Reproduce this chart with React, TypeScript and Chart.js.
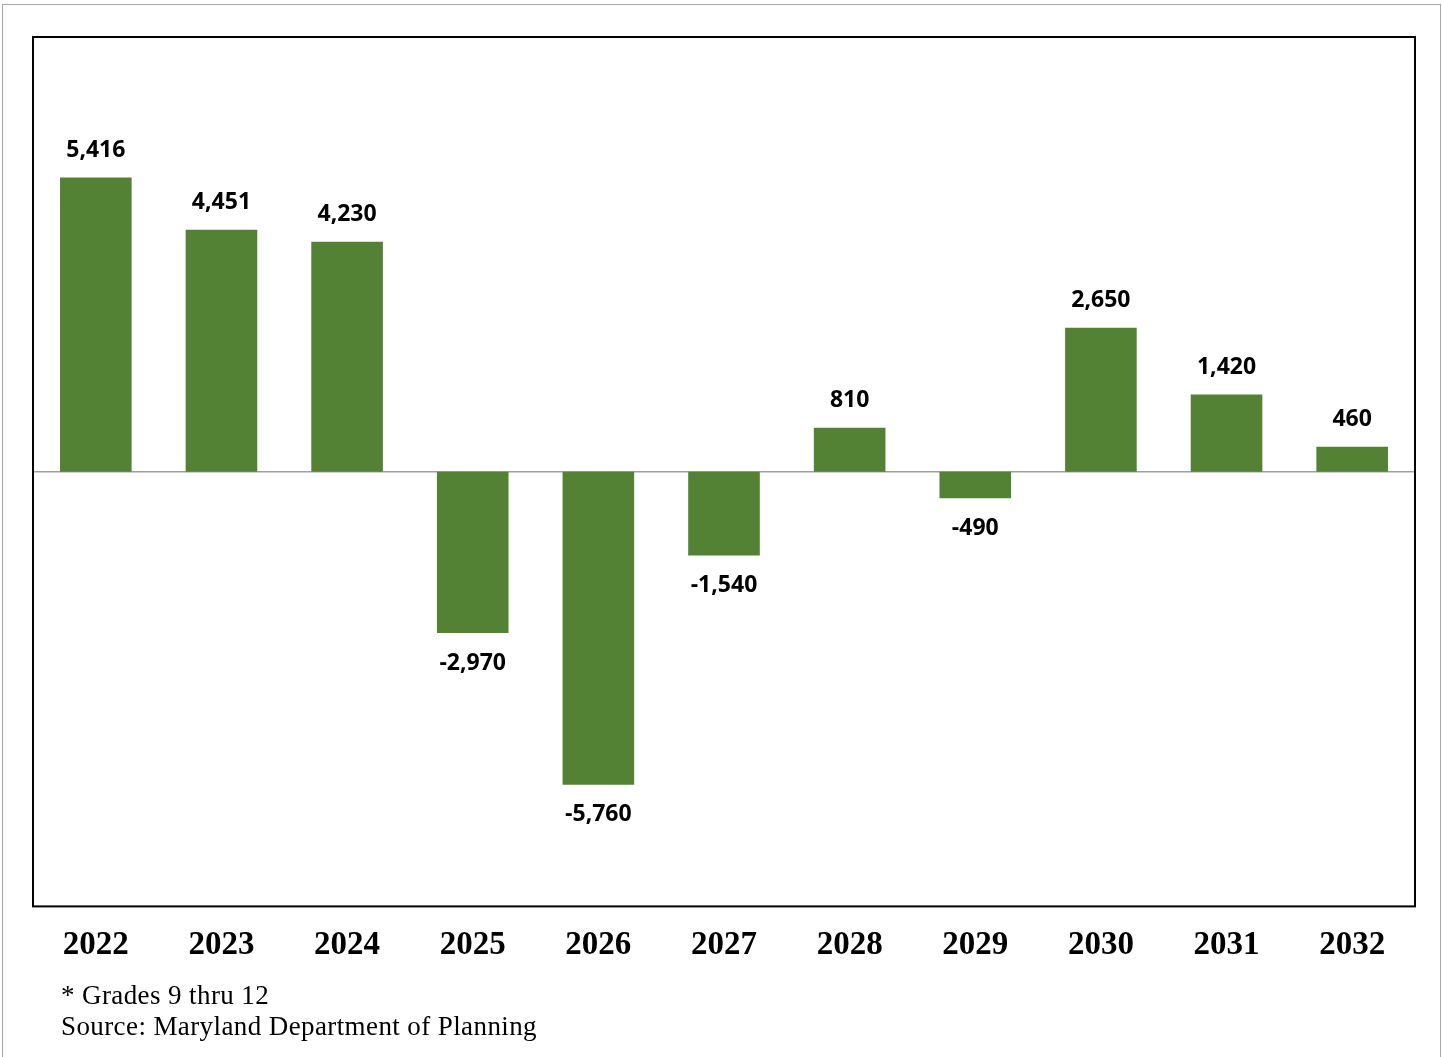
import React, { useEffect, useRef } from "react";
import { Chart, registerables } from "chart.js";

Chart.register(...registerables);

const years = ["2022", "2023", "2024", "2025", "2026", "2027", "2028", "2029", "2030", "2031", "2032"];
const changes = [5416, 4451, 4230, -2970, -5760, -1540, 810, -490, 2650, 1420, 460];
const footnotes = ["* Grades 9 thru 12", "Source: Maryland Department of Planning"];

const fmt = (v: number) => (v < 0 ? "-" : "") + Math.abs(v).toLocaleString("en-US");

const framePlugin = {
  id: "frame",
  beforeDatasetsDraw(chart: any) {
    const { ctx, chartArea, scales } = chart;
    const y0 = scales.y.getPixelForValue(0);
    ctx.save();
    ctx.strokeStyle = "#a0a0a0";
    ctx.lineWidth = 1.5;
    ctx.beginPath();
    ctx.moveTo(chartArea.left, y0);
    ctx.lineTo(chartArea.right, y0);
    ctx.stroke();
    ctx.restore();
  },
  afterDatasetsDraw(chart: any) {
    const { ctx, chartArea } = chart;
    ctx.save();
    const meta = chart.getDatasetMeta(0);
    ctx.font = "bold 23px 'Open Sans'";
    ctx.fillStyle = "#000000";
    ctx.textAlign = "center";
    ctx.textBaseline = "middle";
    meta.data.forEach((el: any, i: number) => {
      const v = changes[i];
      const y = v >= 0 ? el.y - 27 : el.y + 30;
      ctx.fillText(fmt(v), el.x, y);
    });
    ctx.strokeStyle = "#000000";
    ctx.lineWidth = 2;
    ctx.strokeRect(chartArea.left, chartArea.top, chartArea.right - chartArea.left, chartArea.bottom - chartArea.top);
    ctx.restore();
  },
};

export default function App() {
  const ref = useRef<HTMLCanvasElement>(null);
  useEffect(() => {
    if (!ref.current) return;
    const chart = new Chart(ref.current, {
      type: "bar",
      data: {
        labels: years,
        datasets: [
          {
            data: changes,
            backgroundColor: "#548235",
            borderWidth: 0,
            barPercentage: 0.57,
            categoryPercentage: 1,
          },
        ],
      },
      options: {
        responsive: false,
        animation: false,
        layout: { padding: { left: 33, right: 27, top: 37, bottom: 0 } },
        plugins: { legend: { display: false }, tooltip: { enabled: false } },
        scales: {
          x: {
            grid: { display: false, drawTicks: false },
            border: { display: false },
            ticks: {
              color: "#000000",
              font: { family: "'Liberation Serif'", weight: "bold", size: 33 },
              padding: 19,
              maxRotation: 0,
            },
          },
          y: {
            display: false,
            min: -8000,
            max: 8000,
          },
        },
      },
      plugins: [framePlugin],
    });
    return () => chart.destroy();
  }, []);

  return (
    <div style={{ position: "absolute", left: 0, top: 0, width: 1442, height: 1057, background: "#ffffff", overflow: "hidden" }}>
      <div
        style={{
          position: "absolute",
          left: 2,
          top: 4,
          width: 1437,
          height: 1070,
          border: "1px solid #a6a6a6",
        }}
      />
      <canvas ref={ref} width={1442} height={984} style={{ position: "absolute", left: 0, top: 0 }} />
      {footnotes.map((t, i) => (
        <div
          key={i}
          style={{
            position: "absolute",
            left: 61,
            top: 980 + i * 31,
            fontFamily: "'Liberation Serif'",
            fontSize: 27,
            letterSpacing: "0.4px",
            lineHeight: "30px",
            color: "#000000",
            whiteSpace: "nowrap",
          }}
        >
          {t}
        </div>
      ))}
    </div>
  );
}
